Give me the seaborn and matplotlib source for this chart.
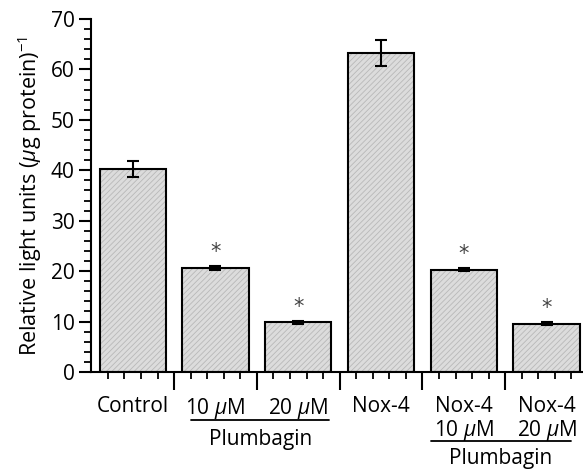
import numpy as np
import pandas as pd
import seaborn as sns
import matplotlib.pyplot as plt
from matplotlib.transforms import blended_transform_factory

groups = ['Control', '10 $\\mu$M', '20 $\\mu$M', 'Nox-4', 'Nox-4\n10 $\\mu$M', 'Nox-4\n20 $\\mu$M']
rlu = [40.3, 20.7, 9.9, 63.3, 20.3, 9.6]
rlu_err = [1.6, 0.4, 0.3, 2.6, 0.35, 0.3]
signif = [False, True, True, False, True, True]

df = pd.DataFrame({'group': groups, 'rlu': rlu})

sns.set_theme()
sns.set_style("ticks")
plt.rcParams['font.family'] = ['Open Sans', 'DejaVu Sans']
plt.rcParams['mathtext.fontset'] = 'custom'
plt.rcParams['mathtext.rm'] = 'Open Sans'
plt.rcParams['mathtext.it'] = 'Open Sans:italic'
plt.rcParams['text.color'] = 'black'
plt.rcParams['axes.labelcolor'] = 'black'
plt.rcParams['xtick.color'] = 'black'
plt.rcParams['ytick.color'] = 'black'
plt.rcParams['hatch.linewidth'] = 0.6

fs = 15

fig = plt.figure(figsize=(5.83, 4.70), dpi=100)
ax = fig.add_axes([0.1566, 0.2085, 0.8434, 0.751])

# hatched fill layer, then black outlines on top
sns.barplot(data=df, x='group', y='rlu', color='#dcdcdc', edgecolor='#b8b8b8',
            linewidth=0, hatch='//////', width=0.8, ax=ax, saturation=1)
sns.barplot(data=df, x='group', y='rlu', fill=False, edgecolor='black',
            linewidth=1.5, width=0.8, ax=ax)

xpos = np.arange(len(groups))
ax.errorbar(xpos, rlu, yerr=rlu_err, fmt='none', ecolor='black',
            elinewidth=1.5, capsize=4, capthick=1.5, zorder=5)
for x, v, e, s in zip(xpos, rlu, rlu_err, signif):
    if s:
        ax.text(x, v + e + 2.7, '*', ha='center', va='center', fontsize=15,
                color='#444444', family='DejaVu Sans')

ax.set_ylim(0, 70)
ax.set_xlim(-0.5, 5.44)
ax.set_xlabel('')
ax.set_ylabel('Relative light units ($\\mu$g protein)$^{-1}$', fontsize=15.5, labelpad=5)

ax.set_yticks(np.arange(0, 71, 10))
ax.set_yticks(np.arange(0, 71, 2), minor=True)
ax.tick_params(axis='y', which='major', length=9, width=1.5, labelsize=fs, direction='out', pad=3)
ax.tick_params(axis='y', which='minor', length=5, width=1.3, direction='out')

ax.set_xticks(xpos)
ax.set_xticklabels(groups, linespacing=1.05)
minor_x = [c + d for c in xpos for d in (-0.3, -0.1, 0.1, 0.3)]
ax.set_xticks(minor_x, minor=True)
ax.tick_params(axis='x', which='major', length=0, labelsize=fs, pad=17)
ax.tick_params(axis='x', which='minor', length=5, width=1.3, direction='out')

sec = ax.secondary_xaxis('bottom')
sec.set_xticks([0.5, 1.5, 2.5, 3.5, 4.5])
sec.tick_params(axis='x', length=13, width=1.5, labelbottom=False)
sec.spines['bottom'].set_visible(False)

for sp in ['top', 'right']:
    ax.spines[sp].set_visible(False)
for sp in ['left', 'bottom']:
    ax.spines[sp].set_linewidth(1.5)
    ax.spines[sp].set_color('black')

trans = blended_transform_factory(ax.transData, ax.transAxes)
ax.plot([0.71, 2.37], [-0.136, -0.136], color='black', lw=1.3, transform=trans, clip_on=False)
ax.text(1.54, -0.19, 'Plumbagin', ha='center', va='center', fontsize=fs, transform=trans)
ax.plot([3.6, 5.29], [-0.195, -0.195], color='black', lw=1.3, transform=trans, clip_on=False)
ax.text(4.45, -0.245, 'Plumbagin', ha='center', va='center', fontsize=fs, transform=trans)

plt.savefig('out.png', dpi=100)
